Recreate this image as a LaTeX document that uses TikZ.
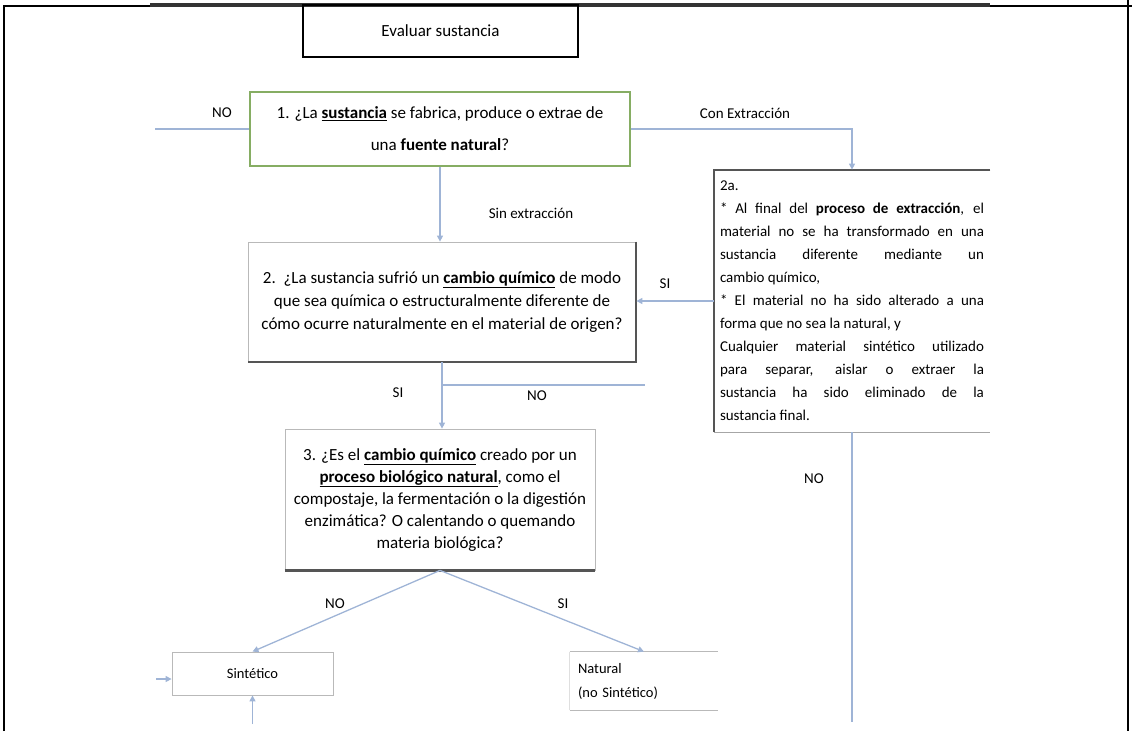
\documentclass[tikz,border=0pt]{standalone}
\usepackage{fontspec}
\setmainfont{Carlito}
\usepackage{tikz}
\usetikzlibrary{
  arrows.meta,
  positioning,
  calc
}
\definecolor{connc}{HTML}{9FB4D6}
\definecolor{qgreen}{HTML}{86AD63}
\definecolor{edgedark}{HTML}{555555}

\begin{document}
\begin{tikzpicture}[
    x=1pt, y=-1pt,
    font=\fontsize{17}{23}\selectfont,
    box/.style={draw=gray!55, line width=0.8pt, inner sep=0pt, align=center},
    lbl/.style={font=\fontsize{15}{17}\selectfont, inner sep=1pt},
    conn/.style={draw=connc, line width=1.3pt},
    arr/.style={conn, -{Triangle[length=6pt, width=6pt]}},
    frame/.style={draw=black, line width=2pt},
    heavy/.style={draw=edgedark, line width=2pt},
  ]

  \useasboundingbox (0,0) rectangle (1132,731);

  % Outer frame
  \draw[frame] (4,731) -- (4,6) -- (1132,6);
  \draw[frame] (1128,0) -- (1128,731);
  \draw[draw=black!80, line width=3.5pt] (150,5) -- (990,5);

  % Boxes
  \node[box, draw=black, line width=1.5pt, minimum width=275, minimum height=52]
    (eval) at (440.5,31) {Evaluar sustancia};
  \node[box, draw=qgreen, line width=1.1pt, minimum width=380, minimum height=74,
        font=\fontsize{17}{32}\selectfont] (q1) at (440,129)
    {1. ¿La \underline{\textbf{sustancia}} se fabrica, produce o extrae de\\
     una \textbf{fuente natural}?};
  \node[box, minimum width=388, minimum height=120] (q2) at (442,302)
    {2.\ \ ¿La sustancia sufrió un \underline{\textbf{cambio químico}} de modo\\
     que sea química o estructuralmente diferente de\\
     cómo ocurre naturalmente en el material de origen?};
  \draw[heavy] (q2.north east) -- (q2.south east) -- (q2.south west);
  \node[box, draw=none, minimum width=276, minimum height=262, text width=264,
        align=justify, font=\fontsize{15}{23}\selectfont] (q2a) at (852,301)
    {2a.\\
     {*} Al final del \textbf{proceso de extracción}, el\linebreak
     material no se ha transformado en una\linebreak
     sustancia diferente mediante un\linebreak
     cambio químico,\\
     {*} El material no ha sido alterado a una\linebreak
     forma que no sea la natural, y\\
     Cualquier material sintético utilizado\linebreak
     para separar, aislar o extraer la\linebreak
     sustancia ha sido eliminado de la\linebreak
     sustancia final.};
  \draw[heavy] (q2a.north east) -- (q2a.north west) -- (q2a.south west);
  \draw[draw=gray!70, line width=1.3pt] (q2a.south west) -- (q2a.south east);
  \node[box, minimum width=310, minimum height=141,
        font=\fontsize{17}{22}\selectfont] (q3) at (440,499.5)
    {3. ¿Es el \underline{\textbf{cambio químico}} creado por un\\
     \underline{\textbf{proceso biológico natural}}, como el\\
     compostaje, la fermentación o la digestión\\
     enzimática? O calentando o quemando\\
     materia biológica?};
  \draw[heavy, line width=3pt] (q3.south west) -- (q3.south east);
  \node[box, minimum width=161, minimum height=43,
        font=\fontsize{14.5}{18}\selectfont] (sint) at (252.5,673.5) {Sintético};
  \node[box, draw=none, minimum width=148, minimum height=58, text width=132,
        align=left, font=\fontsize{14.5}{24}\selectfont] (nat) at (644,681)
    {Natural\\(no Sintético)};
  \draw[draw=gray!55, line width=1.3pt] (nat.north west) -- (nat.north east);
  \draw[draw=gray!55, line width=1.3pt] (nat.south west) -- (nat.south east);
  \draw[draw=gray!25, line width=0.8pt] (nat.north west) -- (nat.south west);

  % Free ends
  \coordinate (noL) at (155,129);
  \coordinate (noM) at (645,385);
  \coordinate (noR) at (852,722);
  \coordinate (sinL) at (156,679);
  \coordinate (sinB) at (252.5,724);

  % Connectors
  \draw[conn] (noL) -- (q1.west);
  \draw[arr] (q1.east) -| (q2a.north);
  \draw[arr] (q1.south) -- (q1.south |- q2.north);
  \draw[arr] (q2a.west) -- (q2a.west -| q2.east);
  \draw[arr] (q2.south) -- (q2.south |- q3.north);
  \draw[conn] (q2.south |- noM) -- (noM);
  \draw[conn] (q2a.south) -- (noR);
  \draw[arr] (q3.south) -- (sint.north);
  \draw[arr] (q3.south) -- (nat.north);
  \draw[arr] (sinL) -- (sinL -| sint.west);
  \draw[arr] (sinB) -- (sint.south);

  % Branch labels
  \node[lbl] (lnoL)  at (222,113) {NO};
  \node[lbl] (lcon)  at (745,113) {Con Extracción};
  \node[lbl] (lsin)  at (531,213) {Sin extracción};
  \node[lbl] (lsiA)  at (665,284) {SI};
  \node[lbl] (lsiB)  at (398,393) {SI};
  \node[lbl] (lnoM)  at (537,396) {NO};
  \node[lbl] (lnoR)  at (814,479) {NO};
  \node[lbl] (lnoS)  at (335,604) {NO};
  \node[lbl] (lsiN)  at (563,604) {SI};

\end{tikzpicture}
\end{document}
